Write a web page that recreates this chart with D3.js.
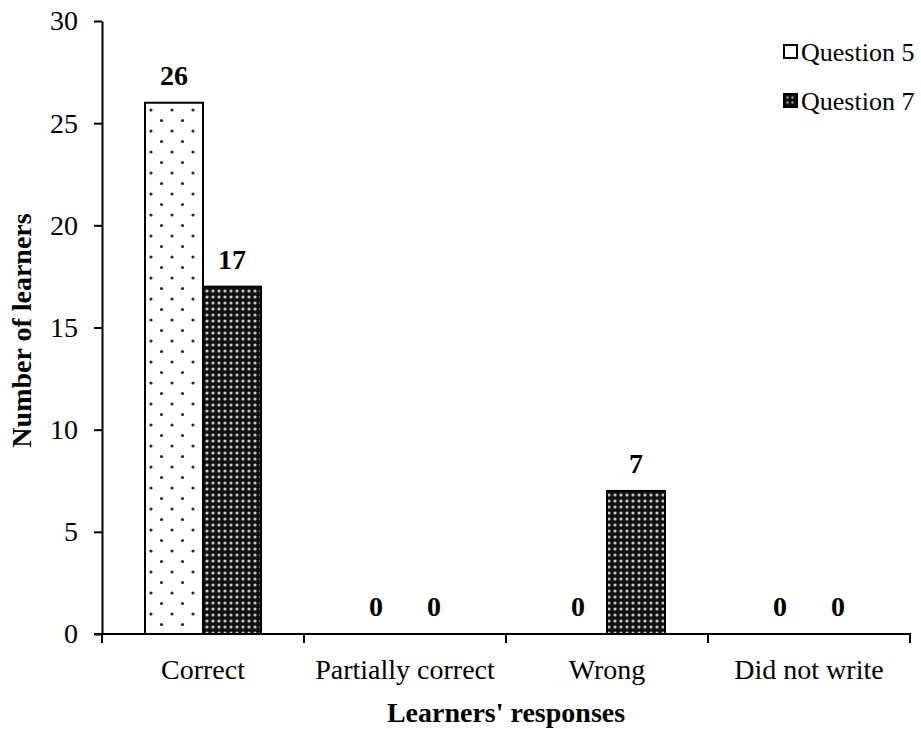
<!DOCTYPE html>
<html>
<head>
<meta charset="utf-8">
<script src="https://cdn.jsdelivr.net/npm/d3@7"></script>
<style>
  html, body { margin: 0; padding: 0; background: #fff; }
  svg { display: block; }
  text { font-family: "Liberation Serif", "Times New Roman", serif; fill: #000; }
</style>
</head>
<body>
<script>
const categories = ["Correct", "Partially correct", "Wrong", "Did not write"];
const seriesNames = ["Question 5", "Question 7"];
const question5 = [26, 0, 0, 0];
const question7 = [17, 0, 7, 0];
const yTicks = [0, 5, 10, 15, 20, 25, 30];

(function () {
const W = 921, H = 729;
const mLeft = 102, mRight = 910, mTop = 21, mBottom = 634;
const barW = 58;

const svg = d3.select("body").append("svg").attr("width", W).attr("height", H);

const defs = svg.append("defs");
// Dotted pattern for Question 5
const p5 = defs.append("pattern").attr("id", "pat5").attr("patternUnits", "userSpaceOnUse")
  .attr("width", 21).attr("height", 21).attr("x", 146).attr("y", 0);
p5.append("rect").attr("width", 21).attr("height", 21).attr("fill", "#fff");
p5.append("circle").attr("cx", 5).attr("cy", 5).attr("r", 1.6).attr("fill", "#2a2a2a");
p5.append("circle").attr("cx", 15.5).attr("cy", 15.5).attr("r", 1.6).attr("fill", "#2a2a2a");
// Dense pattern for Question 7
const p7 = defs.append("pattern").attr("id", "pat7").attr("patternUnits", "userSpaceOnUse")
  .attr("width", 6).attr("height", 6);
p7.append("rect").attr("width", 6).attr("height", 6).attr("fill", "#111");
p7.append("circle").attr("cx", 3).attr("cy", 3).attr("r", 1.6).attr("fill", "#c8c8c8");
// legend pattern
const p7l = defs.append("pattern").attr("id", "pat7l").attr("patternUnits", "userSpaceOnUse")
  .attr("width", 5).attr("height", 5);
p7l.append("rect").attr("width", 5).attr("height", 5).attr("fill", "#111");
p7l.append("circle").attr("cx", 2.5).attr("cy", 2.5).attr("r", 1.2).attr("fill", "#999");

const x = d3.scaleBand().domain(categories).range([mLeft, mRight]).padding(0);
const y = d3.scaleLinear().domain([0, 30]).range([mBottom, mTop]);

const series = [
  { name: seriesNames[0], values: question5, fill: "url(#pat5)", offset: -barW },
  { name: seriesNames[1], values: question7, fill: "url(#pat7)", offset: 0 }
];

series.forEach(s => {
  const g = svg.append("g");
  categories.forEach((c, i) => {
    const v = s.values[i];
    const cx = x(c) + x.bandwidth() / 2;
    if (v > 0) {
      g.append("rect")
        .attr("x", cx + s.offset)
        .attr("y", y(v))
        .attr("width", barW)
        .attr("height", y(0) - y(v))
        .attr("fill", s.fill)
        .attr("stroke", "#000")
        .attr("stroke-width", 2);
    }
    g.append("text")
      .attr("x", cx + s.offset + barW / 2)
      .attr("y", y(v) - 18)
      .attr("text-anchor", "middle")
      .attr("font-size", 28)
      .attr("font-weight", "bold")
      .text(v);
  });
});

// Y axis
const yAxis = d3.axisLeft(y).tickValues(yTicks).tickSize(8).tickPadding(16).tickSizeOuter(0);
const gy = svg.append("g").attr("transform", `translate(${mLeft},0)`).call(yAxis);
gy.selectAll("path, line").attr("stroke", "#000").attr("stroke-width", 2);
gy.selectAll("text").attr("font-size", 28).attr("font-family", "Liberation Serif").attr("fill", "#000");

// X axis
const boundaries = categories.map(c => x(c)).concat([mRight]);
const gx = svg.append("g");
gx.append("line").attr("x1", mLeft - 8).attr("x2", mRight + 1).attr("y1", mBottom).attr("y2", mBottom)
  .attr("stroke", "#000").attr("stroke-width", 2);
gx.selectAll("line.tick").data(boundaries).enter().append("line")
  .attr("class", "tick")
  .attr("x1", d => d).attr("x2", d => d).attr("y1", mBottom).attr("y2", mBottom + 9)
  .attr("stroke", "#000").attr("stroke-width", 2);
gx.selectAll("text").data(categories).enter().append("text")
  .attr("x", d => x(d) + x.bandwidth() / 2)
  .attr("y", 679)
  .attr("text-anchor", "middle")
  .attr("font-size", 28)
  .text(d => d);

// Axis titles
svg.append("text").attr("x", (mLeft + mRight) / 2).attr("y", 722)
  .attr("text-anchor", "middle").attr("font-size", 28).attr("font-weight", "bold")
  .text("Learners' responses");
svg.append("text").attr("transform", `translate(31,${(mTop + mBottom) / 2 + 3}) rotate(-90)`)
  .attr("text-anchor", "middle").attr("font-size", 28).attr("font-weight", "bold")
  .text("Number of learners");

// Legend
const legendY = [52, 101];
const legFills = ["#fff", "url(#pat7l)"];
seriesNames.forEach((n, i) => {
  svg.append("rect").attr("x", 784).attr("y", legendY[i] - 7).attr("width", 13).attr("height", 13)
    .attr("fill", legFills[i]).attr("stroke", "#000").attr("stroke-width", 2);
  svg.append("text").attr("x", 801).attr("y", legendY[i] + 9).attr("font-size", 26).text(n);
});
})();
</script>
</body>
</html>
